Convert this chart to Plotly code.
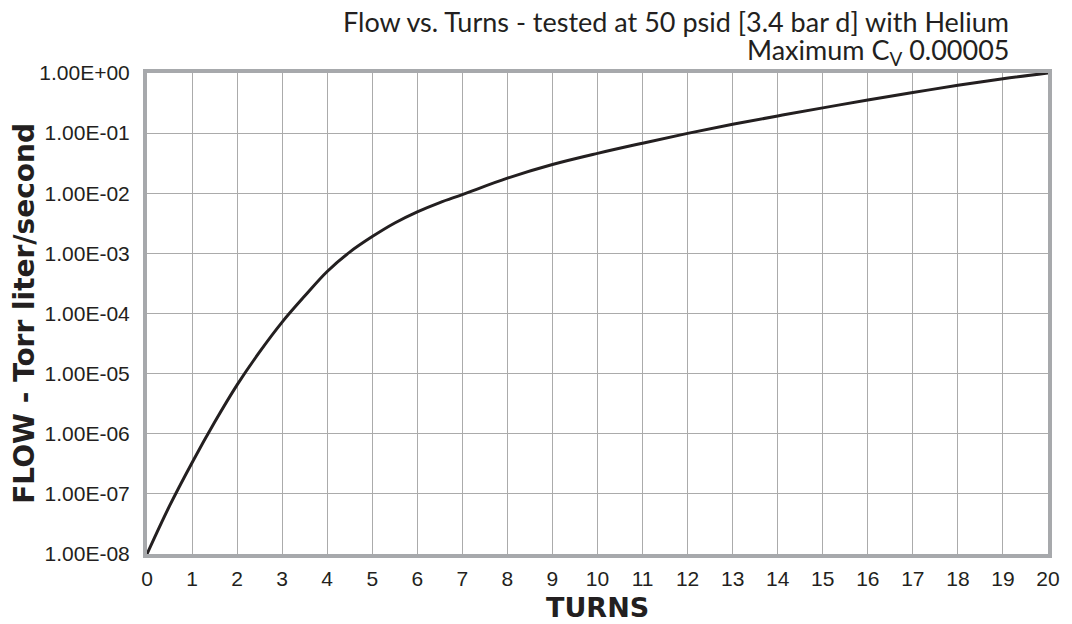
import plotly.graph_objects as go

turns = [0, 0.5, 1, 1.5, 2, 2.5, 3, 3.5, 4, 4.5, 5, 5.5, 6, 6.5, 7, 8, 9, 10, 11, 12, 13, 14, 15, 16, 17, 18, 19, 20]
flow = [1.0e-8, 6.3e-8, 3.3e-7, 1.55e-6, 6.5e-6, 2.3e-5, 7.2e-5, 1.95e-4, 5.0e-4, 1.05e-3, 1.9e-3, 3.2e-3,
        4.9e-3, 7.0e-3, 9.5e-3, 1.78e-2, 3.0e-2, 4.6e-2, 6.8e-2, 9.9e-2, 0.14, 0.193, 0.263, 0.355, 0.473, 0.624, 0.80, 1.0]

y_tickvals = [1e-8, 1e-7, 1e-6, 1e-5, 1e-4, 1e-3, 1e-2, 1e-1, 1e0]
y_ticktext = ["1.00E-08", "1.00E-07", "1.00E-06", "1.00E-05", "1.00E-04", "1.00E-03", "1.00E-02", "1.00E-01", "1.00E+00"]
x_tickvals = list(range(0, 21))

title_line1 = "Flow vs. Turns - tested at 50 psid [3.4 bar d] with Helium"
title_line2 = "Maximum C<sub>V</sub> 0.00005"

# page body has an 8px margin, so the figure is sized to fit inside the window
W, H = 1064, 616
L, R, T, B = 139, 22, 65, 70
PW = W - L - R

fig = go.Figure()
fig.add_trace(go.Scatter(x=turns, y=flow, mode="lines",
                         line=dict(color="#231f20", width=3, shape="spline", smoothing=1.0),
                         showlegend=False, hoverinfo="skip"))

tickfont = dict(family="Liberation Sans, Arial, sans-serif", size=21, color="#231f20")
axis_common = dict(showgrid=True, gridcolor="#ababab", gridwidth=1,
                   showline=True, linecolor="#a7a9ac", linewidth=4, mirror=True,
                   zeroline=False, ticks="", tickfont=tickfont)

title_font = dict(family="Lato, Noto Sans, sans-serif", size=27, color="#231f20")
bold_font = dict(family="DejaVu Sans, sans-serif", size=28, color="#231f20")

fig.update_layout(
    width=W, height=H,
    margin=dict(l=L, r=R, t=T, b=B),
    paper_bgcolor="white", plot_bgcolor="white",
    xaxis=dict(range=[0, 20], tickmode="array", tickvals=x_tickvals, ticklabelstandoff=3, **axis_common),
    yaxis=dict(type="log", range=[-8, 0], tickmode="array", tickvals=y_tickvals, ticktext=y_ticktext,
               ticklabelstandoff=9, **axis_common),
    annotations=[
        dict(text=title_line1, xref="paper", yref="paper",
             x=(1005 - L) / PW, y=1, xanchor="right", yanchor="middle", yshift=52, align="right",
             showarrow=False, font=title_font),
        dict(text=title_line2, xref="paper", yref="paper",
             x=(1005 - L) / PW, y=1, xanchor="right", yanchor="middle", yshift=22, align="right",
             showarrow=False, font=title_font),
        dict(text="<b>FLOW - Torr liter/second</b>", xref="paper", yref="paper",
             x=-(L - 16) / PW, y=0.5, xanchor="center", yanchor="middle", textangle=-90,
             showarrow=False, font=bold_font),
        dict(text="<b>TURNS</b>", xref="paper", yref="paper",
             x=0.5, y=0, yshift=-53, xanchor="center", yanchor="middle",
             showarrow=False, font=dict(family="DejaVu Sans, sans-serif", size=27, color="#231f20")),
    ],
)

fig.write_html("out.html")
